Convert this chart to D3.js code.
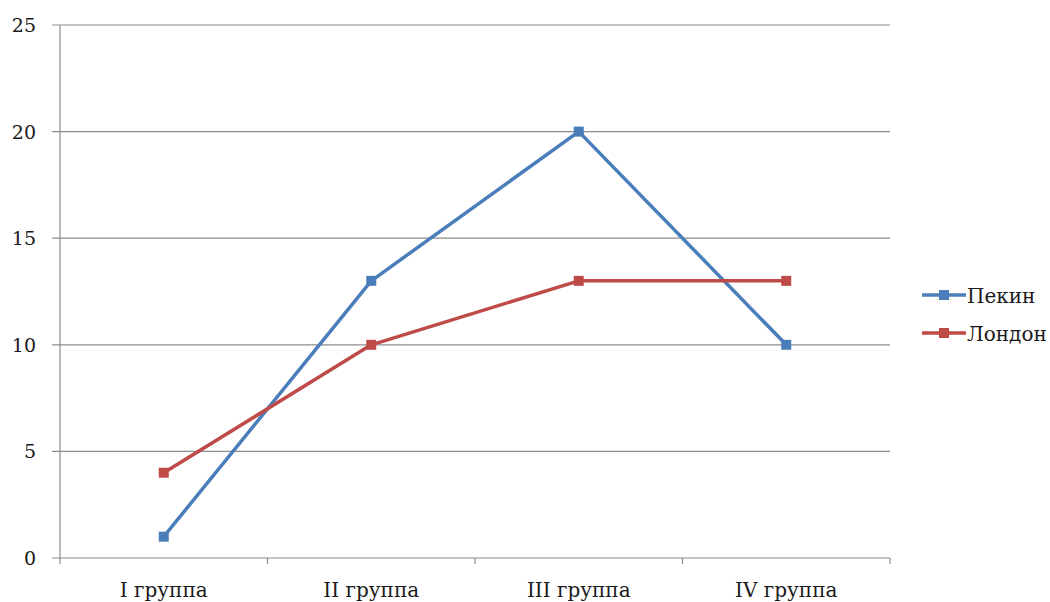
<!DOCTYPE html>
<html><head><meta charset="utf-8">
<script src="https://cdn.jsdelivr.net/npm/d3@7"></script>
<style>body{margin:0;background:#fff;}</style>
</head><body><svg id="c" width="1050" height="602"></svg>
<script>
const categories = ["I группа","II группа","III группа","IV группа"];
const seriesNames = ["Пекин","Лондон"];
const pekin = [1,13,20,10];
const london = [4,10,13,13];
const yTicks = [0,5,10,15,20,25];
const colors = ["#4a7ebb","#be4b48"];
const FONT = "DejaVu Serif";

const svg = d3.select("#c");
const x = d3.scaleBand().domain(categories).range([60,890]);
const y = d3.scaleLinear().domain([0,25]).range([558,25]);

svg.append("g").selectAll("line").data(yTicks).join("line")
  .attr("x1",52).attr("x2",890).attr("y1",d=>y(d)).attr("y2",d=>y(d))
  .attr("stroke","#8c8c8c").attr("stroke-width",1.2);
svg.append("line").attr("x1",60).attr("x2",60).attr("y1",y(25)).attr("y2",y(0)+1)
  .attr("stroke","#8c8c8c").attr("stroke-width",1.2);
svg.append("g").selectAll("text").data(yTicks).join("text")
  .attr("x",36).attr("y",d=>y(d)+7).attr("text-anchor","end")
  .attr("font-family",FONT).attr("font-size",19).attr("fill","#1a1a1a").text(d=>d);
const xb = categories.map(c=>x(c)).concat([x.range()[1]]);
svg.append("g").selectAll("line").data(xb).join("line")
  .attr("x1",d=>d).attr("x2",d=>d).attr("y1",y(0)).attr("y2",y(0)+6)
  .attr("stroke","#8c8c8c").attr("stroke-width",1.2);
svg.append("g").selectAll("text").data(categories).join("text")
  .attr("x",d=>x(d)+x.bandwidth()/2).attr("y",597).attr("text-anchor","middle")
  .attr("font-family",FONT).attr("font-size",20).attr("fill","#1a1a1a").text(d=>d);

const data = [pekin, london];
const line = d3.line().x((d,i)=>x(categories[i])+x.bandwidth()/2).y(d=>y(d));
data.forEach((s,k)=>{
  svg.append("path").datum(s).attr("d",line).attr("fill","none")
    .attr("stroke",colors[k]).attr("stroke-width",3.5).attr("stroke-linejoin","round");
  svg.append("g").selectAll("rect").data(s).join("rect")
    .attr("x",(d,i)=>x(categories[i])+x.bandwidth()/2-5).attr("y",d=>y(d)-5)
    .attr("width",10).attr("height",10).attr("fill",colors[k]);
});

const lg = svg.append("g");
seriesNames.forEach((n,k)=>{
  const ly = 295 + k*38;
  lg.append("line").attr("x1",922).attr("x2",966).attr("y1",ly).attr("y2",ly)
    .attr("stroke",colors[k]).attr("stroke-width",3.5);
  lg.append("rect").attr("x",939).attr("y",ly-5).attr("width",10).attr("height",10).attr("fill",colors[k]);
  lg.append("text").attr("x",967).attr("y",ly+8).attr("font-family",FONT).attr("font-size",20).attr("fill","#1a1a1a").text(n);
});
</script></body></html>
